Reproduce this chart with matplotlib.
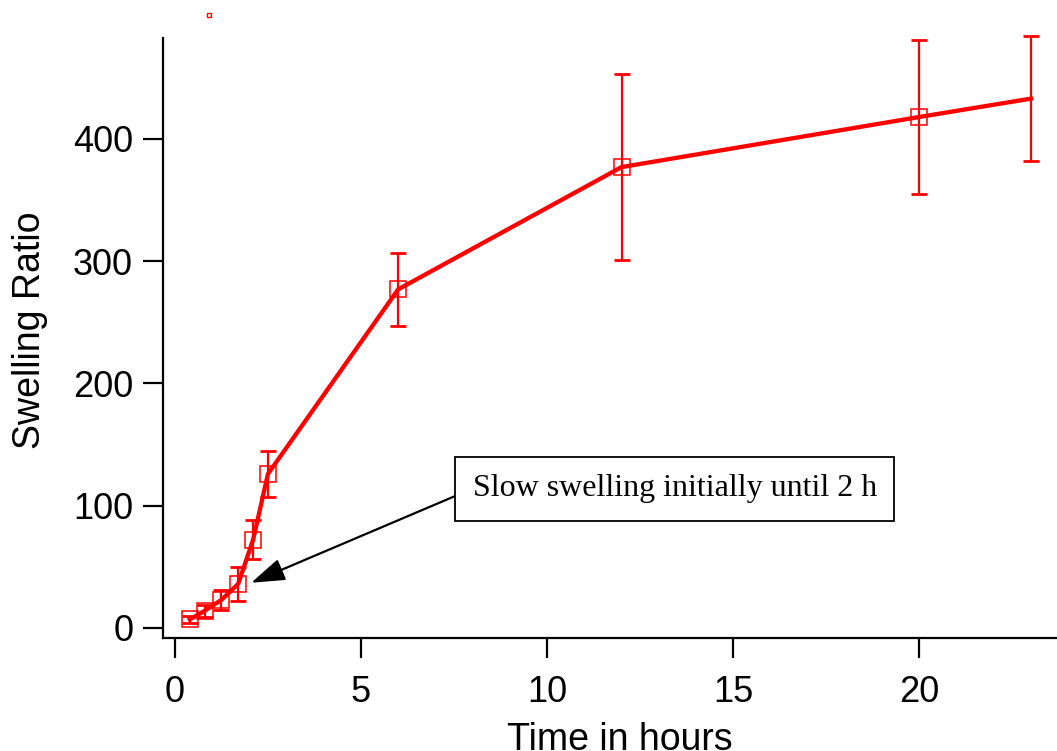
"""Swelling ratio over time with error bars."""

import matplotlib.pyplot as plt

plt.rcParams["font.family"] = ["Liberation Sans", "DejaVu Sans"]

time_h = [0.4, 0.8, 1.25, 1.7, 2.1, 2.5, 6.0, 12.0, 20.0, 23.0]
swelling = [7, 14, 23, 36, 72, 126, 277, 377, 418, 433]
swelling_err = [3, 5, 8, 14, 16, 19, 30, 76, 63, 51]

x_ticks = [0, 5, 10, 15, 20]
y_ticks = [0, 100, 200, 300, 400]
note = "Slow swelling initially until 2 h"

RED = "#ff0000"


def main() -> None:
    fig = plt.figure(figsize=(10.57, 7.51), dpi=100)
    ax = fig.add_axes([0.1542, 0.1505, 0.8458, 0.7989])

    ax.errorbar(
        time_h, swelling, yerr=swelling_err, color=RED, lw=3.1,
        elinewidth=1.6, capsize=6, capthick=2.0, clip_on=False, zorder=3,
    )
    ax.plot(
        time_h[:-1], swelling[:-1], ls="none", marker="s", ms=11,
        mfc="none", mec=RED, mew=1.1, clip_on=False, zorder=4,
    )

    ax.set_xlim(-0.32, 23.7)
    ax.set_ylim(-8.2, 482.6)
    ax.set_xticks(x_ticks)
    ax.set_yticks(y_ticks)
    ax.tick_params(length=14.5, width=1.6, labelsize=26)
    ax.tick_params(axis="x", pad=12)
    ax.tick_params(axis="y", pad=7)
    for side in ("top", "right"):
        ax.spines[side].set_visible(False)
    for side in ("left", "bottom"):
        ax.spines[side].set_linewidth(1.6)

    ax.set_xlabel("Time in hours", fontsize=27)
    ax.set_ylabel("Swelling Ratio", fontsize=27)
    # label positions as in the original (bottom label runs off the page edge)
    ax.xaxis.set_label_coords(0.511, -0.140)
    ax.yaxis.set_label_coords(-0.129, 0.513)

    ax.annotate(
        note, xy=(2.05, 37), xytext=(8.0, 114), textcoords="data",
        fontsize=23, family=["Liberation Serif", "DejaVu Serif"],
        ha="left", va="center",
        bbox=dict(boxstyle="square,pad=0.55", fc="white", ec="black", lw=1.3),
        arrowprops=dict(arrowstyle="-|>,head_length=0.9,head_width=0.3",
                        color="black", lw=1.6, shrinkA=0, shrinkB=0,
                        relpos=(0, 0.5)),
    )

    # stray legend marker seen at the top of the original figure
    fig.lines.append(plt.Line2D([0.1978], [0.980], transform=fig.transFigure,
                                marker="s", ms=2.5, mfc="none", mec=RED, mew=1))

    fig.savefig("out.png", dpi=100)
    plt.close(fig)


if __name__ == "__main__":
    main()
